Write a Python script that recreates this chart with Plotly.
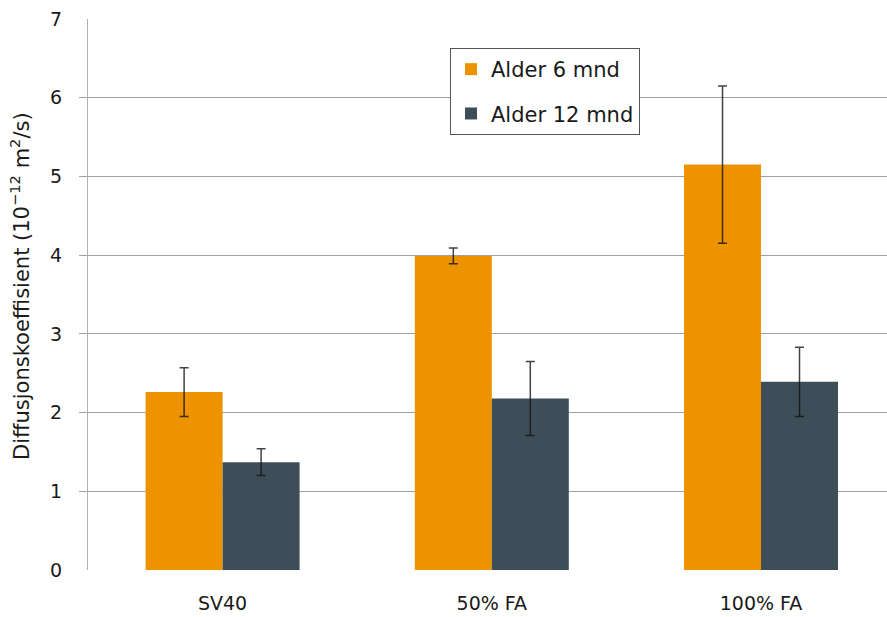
import plotly.graph_objects as go

categories = ["SV40", "50% FA", "100% FA"]
series_names = ["Alder 6 mnd", "Alder 12 mnd"]
values_6 = [2.26, 3.99, 5.15]
err_6 = [0.31, 0.10, 1.00]
values_12 = [1.37, 2.18, 2.39]
err_12 = [0.17, 0.47, 0.44]
y_ticks = [0, 1, 2, 3, 4, 5, 6, 7]
grid_ticks = [1, 2, 3, 4, 5, 6]

ORANGE = "#EE9300"
SLATE = "#3E4E59"
GRID = "#A0A0A0"
FONT = "DejaVu Sans"

fig = go.Figure()
for name, vals, errs, col, grp in [
    (series_names[0], values_6, err_6, ORANGE, "a"),
    (series_names[1], values_12, err_12, SLATE, "b"),
]:
    fig.add_trace(go.Bar(
        x=categories, y=vals, name=name, legendgroup=grp,
        marker=dict(color=col, line=dict(width=0)),
        error_y=dict(type="data", array=errs, visible=True,
                     color="rgba(20,20,20,0.8)", thickness=1.5, width=4.5),
    ))

fig.update_layout(
    width=887, height=617,
    margin=dict(l=88, r=0, t=19, b=47),
    paper_bgcolor="white", plot_bgcolor="white",
    barmode="group", bargap=0.428, bargroupgap=0,
    font=dict(family=FONT, size=19, color="#1a1a1a"),
    showlegend=True,
    legend=dict(
        x=(450 - 88) / (887 - 88), y=1 - (48 - 19) / (570 - 19),
        xanchor="left", yanchor="top",
        font=dict(family=FONT, size=21, color="#1a1a1a"),
        bgcolor="white", bordercolor="#555555", borderwidth=1,
        tracegroupgap=14,
    ),
)

fig.update_xaxes(
    range=[-0.5, 2.468], showgrid=False, showline=False, zeroline=False,
    ticks="", ticklabelstandoff=20,
    tickfont=dict(family=FONT, size=19, color="#1a1a1a"),
)
fig.update_yaxes(
    range=[0, 7], tickmode="array", tickvals=y_ticks,
    ticktext=[str(v) for v in y_ticks],
    showgrid=False, zeroline=False,
    showline=True, linecolor="#B0B0B0", linewidth=1,
    ticks="", ticklabelstandoff=21,
    tickfont=dict(family=FONT, size=19, color="#1a1a1a"),
    minor=dict(tickmode="array", tickvals=grid_ticks, ticks="outside",
               ticklen=8, tickcolor=GRID, tickwidth=1,
               showgrid=True, gridcolor=GRID, gridwidth=1),
)

fig.add_annotation(
    text="Diffusjonskoeffisient (10<sup>−12</sup> m<sup>2</sup>/s)",
    xref="paper", yref="paper", x=-(88 - 20) / (887 - 88), y=1 - (286 - 19) / 551,
    xanchor="center", yanchor="middle", textangle=-90, showarrow=False,
    font=dict(family=FONT, size=21, color="#1a1a1a"),
)

fig.write_html(
    "out.html",
    config={"displayModeBar": False},
    post_script="document.body.style.margin='0';document.body.style.padding='0';",
)
